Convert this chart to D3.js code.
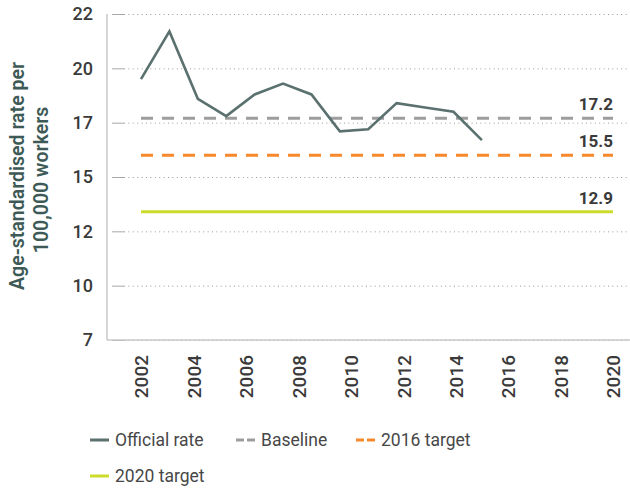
<!DOCTYPE html>
<html>
<head>
<meta charset="utf-8">
<script src="https://cdn.jsdelivr.net/npm/d3@7"></script>
<style>
  body { margin: 0; background: #fff; }
  svg text { font-family: Roboto, sans-serif; }
</style>
</head>
<body>
<svg id="chart"></svg>
<script>
// official series, one value per point
const officialYears = [2002, 2003, 2004, 2005, 2006, 2007, 2008, 2009, 2010, 2011, 2012, 2013, 2014];
const officialRate = [19.0, 21.2, 18.1, 17.3, 18.3, 18.8, 18.3, 16.6, 16.7, 17.9, 17.7, 17.5, 16.2];

// flat reference lines
const targetYears = [2002, 2020];
const baseline = [17.2, 17.2];
const target2016 = [15.5, 15.5];
const target2020 = [12.9, 12.9];

const xTicks = [2002, 2004, 2006, 2008, 2010, 2012, 2014, 2016, 2018, 2020];
const yTicks = [7, 9.5, 12, 14.5, 17, 19.5, 22];
const yTickLabels = ["7", "10", "12", "15", "17", "20", "22"];

const seriesNames = ["Official rate", "Baseline", "2016 target", "2020 target"];

class LineChart {

    constructor( config ) {
        this.config = {
            parent: config.parent,
            width: config.width || 630,
            height: config.height || 490,
            margin: config.margin || {top:14, right:2, bottom:150, left:107},
        }
        this.init();
    }

    init() {
        let self = this;

        self.svg = d3.select( self.config.parent )
            .attr('width', self.config.width)
            .attr('height', self.config.height);

        self.chart = self.svg.append('g')
            .attr('transform', `translate(${self.config.margin.left}, ${self.config.margin.top})`);

        self.inner_width = self.config.width - self.config.margin.left - self.config.margin.right;
        self.inner_height = self.config.height - self.config.margin.top - self.config.margin.bottom;

        self.xscale = d3.scaleLinear()
            .domain( [2002, 2020] )
            .range( [34, 506] );

        // the official series is spread a little wider than the year axis
        self.xofficial = d3.scalePoint()
            .domain( officialYears )
            .range( [self.xscale(2002), self.xscale(2015)] );

        self.yscale = d3.scaleLinear()
            .domain( [7, 22] )
            .range( [self.inner_height, 0] );

        // dotted gridlines
        self.grid_group = self.chart.append('g')
            .attr('transform', `translate(17, 0)`);

        // left ticks and labels
        self.yaxis = d3.axisLeft( self.yscale )
            .tickValues( yTicks )
            .tickFormat( (d, i) => yTickLabels[i] )
            .tickSize( 12 )
            .tickPadding( 19 );

        self.yaxis_group = self.chart.append('g')
            .attr('transform', `translate(17, 0)`);

        self.xaxis = d3.axisBottom( self.xscale )
            .tickValues( xTicks )
            .tickFormat( d3.format('d') )
            .tickSize( 0 );

        self.xaxis_group = self.chart.append('g')
            .attr('transform', `translate(0, ${self.inner_height})`);

        // frame lines
        self.chart.append('line')
            .attr('x1', 0).attr('x2', 0)
            .attr('y1', 0).attr('y2', self.inner_height)
            .attr('stroke', '#c9c9c9')
            .attr('stroke-width', 1.5);

        self.chart.append('line')
            .attr('x1', 0).attr('x2', self.inner_width + 10)
            .attr('y1', self.inner_height).attr('y2', self.inner_height)
            .attr('stroke', '#c9c9c9')
            .attr('stroke-width', 1.5);

        self.lines = self.chart.append('g');
        self.labels = self.chart.append('g');

        // y title, two lines
        self.ytitle = self.svg.append('text')
            .attr('transform', 'rotate(-90)')
            .attr('text-anchor', 'middle')
            .attr('font-size', '19.5px')
            .attr('font-weight', 600)
            .attr('fill', '#3d5a56');
        self.ytitle.append('tspan')
            .attr('x', -176).attr('y', 24)
            .text('Age-standardised rate per');
        self.ytitle.append('tspan')
            .attr('x', -180).attr('y', 48)
            .text('100,000 workers');

        self.legend = self.svg.append('g');
    }

    render() {
        let self = this;

        self.grid_group
            .call( d3.axisRight( self.yscale ).tickValues( yTicks ).tickSize( self.inner_width - 17 ).tickFormat('') )
            .call( g => g.select('.domain').remove() )
            .call( g => g.selectAll('line')
                .attr('stroke', '#9a9a9a')
                .attr('stroke-width', 1)
                .attr('stroke-dasharray', '1,3.4') );

        self.yaxis_group
            .call( self.yaxis )
            .call( g => g.select('.domain').remove() )
            .call( g => g.selectAll('line').attr('stroke', '#a8a8a8').attr('stroke-width', 1) )
            .call( g => g.selectAll('text')
                .attr('font-size', '18px')
                .attr('font-weight', 500)
                .attr('fill', '#3a3a3a') );

        self.xaxis_group
            .call( self.xaxis )
            .call( g => g.select('.domain').remove() )
            .call( g => g.selectAll('text')
                .attr('transform', 'rotate(-90)')
                .attr('text-anchor', 'end')
                .attr('x', -15)
                .attr('y', 0)
                .attr('dy', '0.36em')
                .attr('font-size', '19px')
                .attr('font-weight', 500)
                .attr('fill', '#3a3a3a') );

        const targetLine = d3.line()
            .x( (d, i) => self.xscale( targetYears[i] ) )
            .y( d => self.yscale( d ) );

        const targets = [
            { values: target2020, color: '#cddc2b', dash: null, label: '12.9' },
            { values: target2016, color: '#f7892c', dash: '12,9', label: '15.5' },
            { values: baseline, color: '#9d9d9d', dash: '12,9', label: '17.2' },
        ];

        self.lines.selectAll('path.target')
            .data( targets )
            .join('path')
            .attr('class', 'target')
            .attr('d', d => targetLine( d.values ))
            .attr('fill', 'none')
            .attr('stroke', d => d.color)
            .attr('stroke-width', 3)
            .attr('stroke-dasharray', d => d.dash);

        self.lines.append('path')
            .datum( officialRate )
            .attr('d', d3.line()
                .x( (d, i) => self.xofficial( officialYears[i] ) )
                .y( d => self.yscale( d ) ) )
            .attr('fill', 'none')
            .attr('stroke', '#5b716f')
            .attr('stroke-width', 2.6)
            .attr('stroke-linejoin', 'miter');

        self.labels.selectAll('text')
            .data( targets )
            .join('text')
            .attr('x', self.xscale( 2020 ))
            .attr('y', d => self.yscale( d.values[1] ) - 8)
            .attr('text-anchor', 'end')
            .attr('font-size', '17px')
            .attr('font-weight', 700)
            .attr('fill', '#3a3a3a')
            .text( d => d.label );

        // legend
        const legendItems = [
            { name: seriesNames[0], color: '#5b716f', dash: null, x: 90, y: 440 },
            { name: seriesNames[1], color: '#9d9d9d', dash: '8,3', x: 236, y: 440 },
            { name: seriesNames[2], color: '#f7892c', dash: '8,3', x: 356, y: 440 },
            { name: seriesNames[3], color: '#cddc2b', dash: null, x: 90, y: 476 },
        ];

        const item = self.legend.selectAll('g')
            .data( legendItems )
            .join('g')
            .attr('transform', d => `translate(${d.x}, ${d.y})`);

        item.append('line')
            .attr('x1', 0).attr('x2', 19)
            .attr('stroke', d => d.color)
            .attr('stroke-width', 3)
            .attr('stroke-dasharray', d => d.dash);

        item.append('text')
            .attr('x', 25)
            .attr('dy', '0.35em')
            .attr('font-size', '17.5px')
            .attr('fill', '#474747')
            .text( d => d.name );
    }
}

let chart = new LineChart( { parent: '#chart', width: 630, height: 490 } );
chart.render();
</script>
</body>
</html>
